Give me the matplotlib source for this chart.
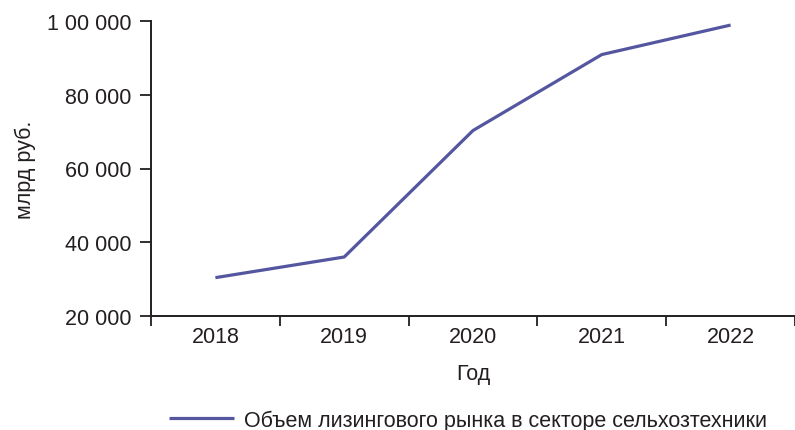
import matplotlib
matplotlib.use("Agg")
import matplotlib.pyplot as plt
from matplotlib.ticker import FuncFormatter, FixedLocator, NullFormatter

plt.rcParams['font.family'] = ['Liberation Sans', 'DejaVu Sans']

### Data ###
years = ["2018", "2019", "2020", "2021", "2022"]
leasing_volume = [30400, 36000, 70300, 90900, 98900]
series_label = "Объем лизингового рынка в секторе сельхозтехники"

y_ticks = [20000, 40000, 60000, 80000, 100000]
y_tick_labels = ["20 000", "40 000", "60 000", "80 000", "1 00 000"]

line_color = "#5457a0"
text_color = "#231f20"
fs = 15.5

### Plot ###
fig = plt.figure(figsize=(7.95, 4.31), dpi=100)
ax = fig.add_axes([151 / 795, 1 - 317 / 431, 1 - 151 / 795, (317 - 22) / 431])

x = list(range(len(years)))
ax.plot(x, leasing_volume, color=line_color, linewidth=2.3, label=series_label,
        solid_capstyle="butt")

ax.set_xlim(-0.5, len(years) - 0.5)
ax.set_ylim(20000, 100000)

# category axis: labels centred, ticks on the boundaries
ax.xaxis.set_major_locator(FixedLocator([i - 0.5 for i in range(len(years) + 1)]))
ax.xaxis.set_major_formatter(NullFormatter())
ax.xaxis.set_minor_locator(FixedLocator(x))
ax.xaxis.set_minor_formatter(FuncFormatter(lambda v, p: years[int(round(v))]))
ax.tick_params(axis="x", which="major", length=7, width=1.3, direction="out", color=text_color)
ax.tick_params(axis="x", which="minor", length=0, pad=7, labelsize=fs, labelcolor=text_color)

ax.set_yticks(y_ticks)
ax.set_yticklabels(y_tick_labels)
ax.tick_params(axis="y", length=8, width=1.3, direction="out", pad=6,
               labelsize=fs, labelcolor=text_color, color=text_color)

for side in ["top", "right"]:
    ax.spines[side].set_visible(False)
for side in ["left", "bottom"]:
    ax.spines[side].set_linewidth(1.4)
    ax.spines[side].set_color(text_color)

ax.set_xlabel("Год", fontsize=fs, color=text_color, labelpad=12)
ax.set_ylabel("млрд руб.", fontsize=fs, color=text_color, labelpad=8)

fig.legend(loc="center", bbox_to_anchor=(468 / 795, 1 - 421 / 431), frameon=False,
           fontsize=fs, handlelength=3.0, handletextpad=0.45, labelcolor=text_color)

fig.savefig("out.png", dpi=100)
